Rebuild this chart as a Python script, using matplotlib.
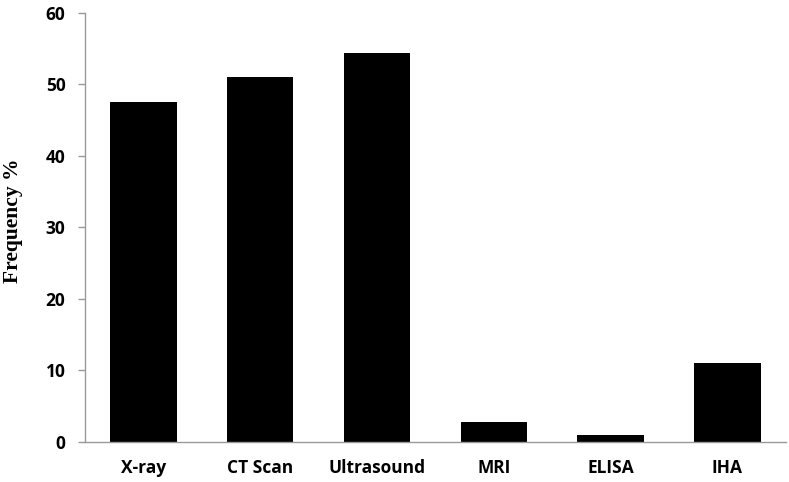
import numpy as np
import matplotlib.pyplot as plt

# data
categories = ['X-ray', 'CT Scan', 'Ultrasound', 'MRI', 'ELISA', 'IHA']
frequency = [47.5, 51.0, 54.3, 2.8, 1.0, 11.0]
yticks = [0, 10, 20, 30, 40, 50, 60]

fig = plt.figure(figsize=(7.89, 4.82), dpi=100)
ax = fig.add_axes([0.1077, 0.083, 0.8883, 0.8907])

x = np.arange(len(categories))
ax.bar(x, frequency, width=0.57, color='black')

ax.set_xlim(-0.5, 5.5)
ax.set_ylim(0, 60)
ax.set_yticks(yticks)
ax.set_xticks(x)
ax.set_xticklabels(categories)

for s in ['top', 'right']:
    ax.spines[s].set_visible(False)
for s in ['left', 'bottom']:
    ax.spines[s].set_color('#999999')
    ax.spines[s].set_linewidth(1.0)

ax.tick_params(axis='y', length=5, width=1.0, color='#999999', pad=9)
ax.tick_params(axis='x', length=0, pad=12)
for lab in ax.get_xticklabels() + ax.get_yticklabels():
    lab.set_fontfamily('Open Sans')
    lab.set_fontweight('bold')
    lab.set_fontsize(12.5)

ax.set_ylabel('Frequency %', fontfamily='Liberation Serif', fontweight='bold',
              fontsize=15.5)
ax.yaxis.set_label_coords(-0.088, 0.515)

fig.savefig('out.png', dpi=100)
